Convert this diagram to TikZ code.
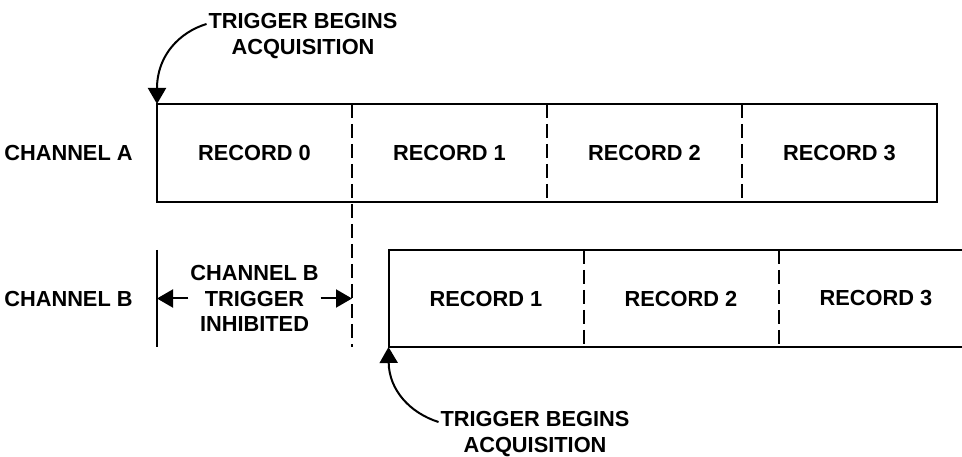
\documentclass[tikz,border=0pt]{standalone}
\usepackage{fontspec}
\setmainfont{Liberation Sans}
\usetikzlibrary{arrows.meta}
\usetikzlibrary{positioning}

\tikzset{
  cell/.style={minimum width=195pt, minimum height=98pt, inner sep=0pt, outer sep=0pt},
  celltext/.style={font=\bfseries\fontsize{21.8}{25.5}\selectfont},
  divider/.style={dash pattern=on 14pt off 6pt},
  trig/.style={-{Triangle[length=16pt,width=18pt]}, line width=2pt},
}

\begin{document}
\begin{tikzpicture}[x=1pt, y=-1pt, line width=2pt, celltext]
  \clip (0,0) rectangle (962,457);

  % channel A records
  \node (a0) [cell] at (254.5,153) {RECORD 0};
  \node (a1) [cell, right=0pt of a0] {RECORD 1};
  \node (a2) [cell, right=0pt of a1] {RECORD 2};
  \node (a3) [cell, right=0pt of a2] {RECORD 3};
  \node (chA) [left=20pt of a0] {CHANNEL A};

  % channel B records
  \node (b1) [cell, minimum height=97pt] at (486,298.5) {RECORD 1};
  \node (b2) [cell, minimum height=97pt, right=0pt of b1] {RECORD 2};
  \node (b3) [cell, minimum height=97pt, right=0pt of b2] {RECORD 3};
  \node (chB) at (chA |- b1) {CHANNEL B};

  \node (inh) [align=center, inner sep=1pt] at (a0 |- b1) {CHANNEL B\\TRIGGER\\INHIBITED};

  \node (tA) [align=center, inner sep=1pt] at (303,36) {TRIGGER BEGINS\\ACQUISITION};
  \node (tB) [align=center, inner sep=1pt] at (535,434) {TRIGGER BEGINS\\ACQUISITION};

  \draw (a0.north west) rectangle (a3.south east);
  \draw [divider] (a0.north east) -- (a0.east |- b1.south);
  \draw [divider] (a1.north east) -- (a1.south east);
  \draw [divider] (a2.north east) -- (a2.south east);

  \draw (b3.north east) -- (b1.north west) -- (b1.south west) -- (b3.south east);
  \draw [divider] (b1.north east) -- (b1.south east);
  \draw [divider] (b2.north east) -- (b2.south east);

  \draw (a0.west |- b1.north) -- (a0.west |- b1.south);
  \draw [trig] (inh.west) -- (a0.west |- inh);
  \draw [trig] (inh.east) -- (a0.east |- inh);

  \draw [trig] ([yshift=12pt]tA.west) .. controls (180,32) and (157,55) .. (a0.north west);
  \draw [trig] ([yshift=12pt]tB.west) .. controls (410,413) and (389,390) .. (b1.south west);
\end{tikzpicture}
\end{document}
